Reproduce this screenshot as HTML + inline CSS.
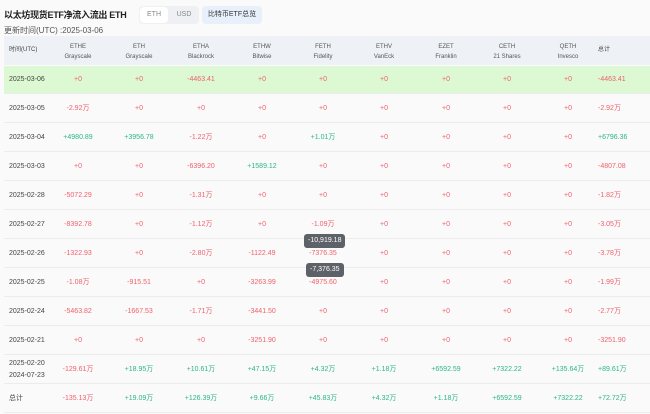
<!DOCTYPE html>
<html><head><meta charset="utf-8"><style>
body{margin:0;width:650px;height:414px;background:#fafafa;font-family:"Liberation Sans","Noto Sans CJK SC",sans-serif;position:relative;overflow:hidden}
.a{position:absolute;white-space:nowrap;line-height:8px}
.c{position:absolute;transform:translateX(-50%);text-align:center;white-space:nowrap;font-size:7px;line-height:8px;height:8px}
.r{color:#f0606e}.g{color:#2cb58a}.k{color:#444}
.row{position:absolute;left:4px;width:646px;border-bottom:1px solid #ececec}
.tip{position:absolute;background:#5d6168;color:#fff;font-size:7px;border-radius:3px;padding:3px 4px;line-height:8px}
</style></head><body>
<div class="a" style="left:4px;top:10px;font-size:9px;line-height:11px;font-weight:bold;color:#222;letter-spacing:-0.3px">以太坊现货ETF净流入流出 ETH</div>
<div class="a" style="left:139px;top:6px;width:60px;height:18px;background:#eef0f3;border-radius:4px"></div>
<div class="a" style="left:140px;top:7px;width:28px;height:16px;background:#fff;border-radius:4px;font-size:7px;color:#888;text-align:center;line-height:16px">ETH</div>
<div class="a" style="left:170px;top:7px;width:28px;height:16px;font-size:7px;color:#888;text-align:center;line-height:16px">USD</div>
<div class="a" style="left:202px;top:6px;width:60px;height:18px;background:#e7f0fb;border-radius:4px;font-size:7px;color:#333;text-align:center;line-height:18px">比特币ETF总览</div>
<div class="a" style="left:4px;top:26px;font-size:8px;line-height:10px;color:#555">更新时间(UTC) :2025-03-06</div>
<div class="a" style="left:4px;top:36px;width:646px;height:29px;background:#eef1f5"></div>
<div class="a" style="left:4px;top:66px;width:646px;height:28px;background:#dcf9d4"></div>
<div class="a k" style="left:9px;top:46px;font-size:6px">时间(UTC)</div>
<div id="h"></div>
<script>
const cols=[78,139,201,262,323,384,446,507,568];
const hd=[["ETHE","Grayscale"],["ETH","Grayscale"],["ETHA","Blackrock"],["ETHW","Bitwise"],["FETH","Fidelity"],["ETHV","VanEck"],["EZET","Franklin"],["CETH","21 Shares"],["QETH","Invesco"]];
let h="";
hd.forEach((d,i)=>{h+=`<div class="c" style="left:${cols[i]}px;top:42px;font-size:6px;color:#555;line-height:10px;height:20px">${d[0]}<br>${d[1]}</div>`});
h+=`<div class="a k" style="left:598px;top:46px;font-size:6px">总计</div>`;
const rows=[
["2025-03-06","+0","+0","-4463.41","+0","+0","+0","+0","+0","+0","-4463.41"],
["2025-03-05","-2.92万","+0","+0","+0","+0","+0","+0","+0","+0","-2.92万"],
["2025-03-04","+4980.89","+3956.78","-1.22万","+0","+1.01万","+0","+0","+0","+0","+6796.36"],
["2025-03-03","+0","+0","-6396.20","+1589.12","+0","+0","+0","+0","+0","-4807.08"],
["2025-02-28","-5072.29","+0","-1.31万","+0","+0","+0","+0","+0","+0","-1.82万"],
["2025-02-27","-8392.78","+0","-1.12万","+0","-1.09万","+0","+0","+0","+0","-3.05万"],
["2025-02-26","-1322.93","+0","-2.80万","-1122.49","-7376.35","+0","+0","+0","+0","-3.78万"],
["2025-02-25","-1.08万","-915.51","+0","-3263.99","-4975.60","+0","+0","+0","+0","-1.99万"],
["2025-02-24","-5463.82","-1667.53","-1.71万","-3441.50","+0","+0","+0","+0","+0","-2.77万"],
["2025-02-21","+0","+0","+0","-3251.90","+0","+0","+0","+0","+0","-3251.90"],
["2025-02-20<br>2024-07-23","-129.61万","+18.95万","+10.61万","+47.15万","+4.32万","+1.18万","+6592.59","+7322.22","+135.64万","+89.61万"],
["总计","-135.13万","+19.09万","+126.39万","+9.66万","+45.83万","+4.32万","+1.18万","+6592.59","+7322.22","+72.72万"]];
rows.forEach((r,j)=>{const cy=80+j*29;const top=65+j*29;
h+=`<div class="row" style="top:${top}px;height:28px"></div>`;
const two=j==10;
h+=`<div class="a k" style="left:9px;top:${two?cy-12:cy-4}px;font-size:7px;line-height:${two?12:8}px">${r[0]}</div>`;
for(let i=1;i<=10;i++){const v=r[i];const cl=v[0]=="+"?(v=="+0"?"r":"g"):"r";
if(i<10)h+=`<div class="c ${cl}" style="left:${cols[i-1]}px;top:${cy-4}px">${v}</div>`;
else h+=`<div class="a ${cl}" style="left:598px;top:${cy-4}px;font-size:7px">${v}</div>`;}
});
h+=`<div class="tip" style="left:304px;top:234px">-10,919.18</div><div class="tip" style="left:306px;top:263px">-7,376.35</div>`;
document.getElementById("h").innerHTML=h;
</script>
</body></html>
